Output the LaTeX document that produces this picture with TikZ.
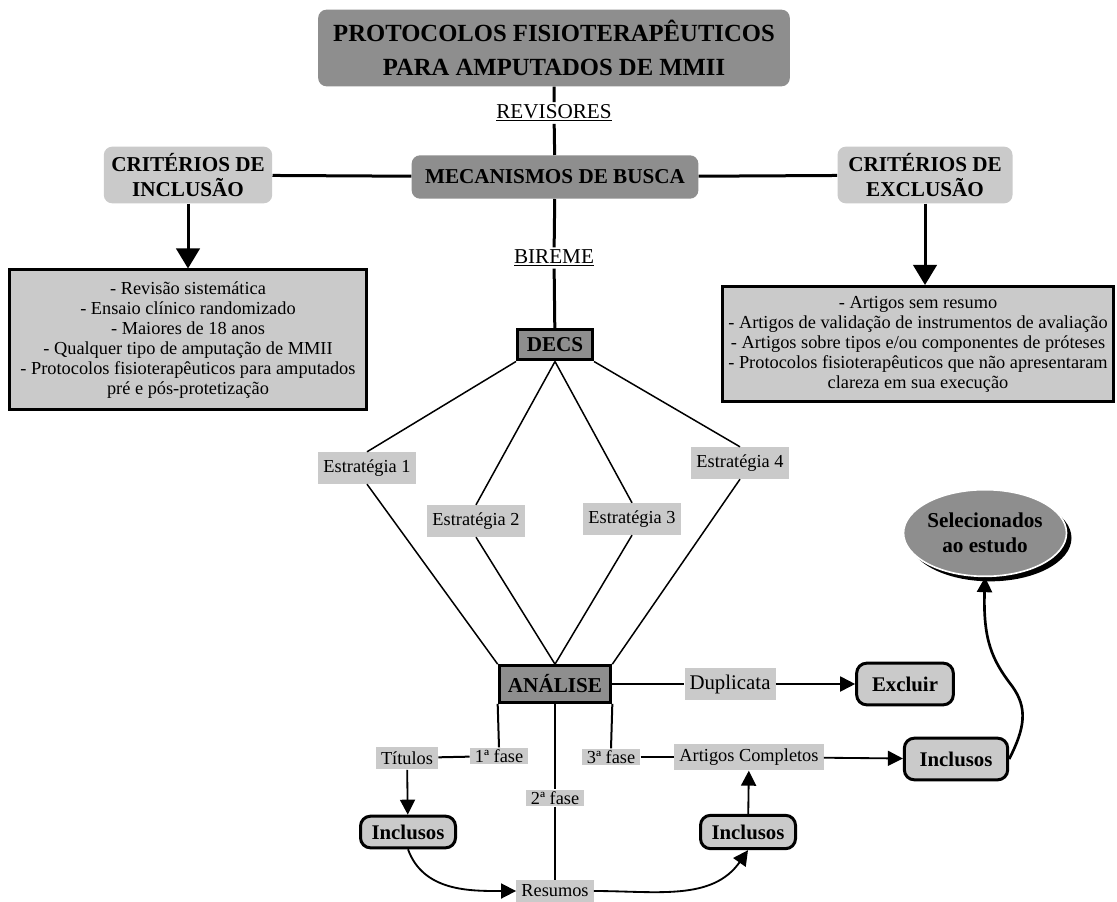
\documentclass[tikz,border=0pt]{standalone}
\usepackage{fontspec}
\setmainfont{Liberation Serif}
\usepackage{tikz}
\usetikzlibrary{arrows.meta,shapes.geometric,shadows,positioning}
\definecolor{cinzaesc}{HTML}{8E8E8E}
\definecolor{cinzacla}{HTML}{CACACA}

\begin{document}
\begin{tikzpicture}[x=0.6pt,y=-0.6pt,
  escuro/.style={fill=cinzaesc, rounded corners=5pt, align=center, font=\bfseries\fontsize{12.7}{15}\selectfont},
  claro/.style={fill=cinzacla, rounded corners=5pt, align=center, font=\bfseries\fontsize{12.7}{15}\selectfont},
  lista/.style={draw=black, line width=1.8pt, fill=cinzacla, align=center, font=\fontsize{11}{12}\selectfont},
  caixaesc/.style={draw=black, line width=1.8pt, fill=cinzaesc, font=\bfseries\fontsize{12.7}{15}\selectfont},
  arred/.style={draw=black, line width=1.8pt, fill=cinzacla, rounded corners=6pt, font=\bfseries\fontsize{12.5}{15}\selectfont},
  rotulo/.style={fill=cinzacla, inner xsep=3pt, inner ysep=3pt, font=\fontsize{11}{13}\selectfont},
  sublinhado/.style={inner sep=1pt, font=\fontsize{12.7}{15}\selectfont},
  grossa/.style={line width=1.8pt},
  media/.style={line width=1.2pt},
  fina/.style={line width=0.9pt},
  seta/.style={line width=1.1pt, -{Triangle[length=9pt,width=9pt]}},
  setagrossa/.style={line width=1.8pt, -{Triangle[length=12pt,width=14pt]}}]
\useasboundingbox (0,0) rectangle (1117,902);

% topo
\node (titulo) [escuro, minimum width=283pt, minimum height=46pt, font=\bfseries\fontsize{14.8}{20}\selectfont] at (554,48) {PROTOCOLOS FISIOTERAPÊUTICOS\\PARA AMPUTADOS DE MMII};
\node (revisores) [sublinhado] at (554,113) {\underline{REVISORES}};
\node (mecanismos) [escuro, minimum width=172pt, minimum height=26pt] at (555,177) {MECANISMOS DE BUSCA};
\node (inclusao) [claro, minimum width=101pt, minimum height=34pt] at (188,175) {CRITÉRIOS DE\\INCLUSÃO};
\node (exclusao) [claro, minimum width=105pt, minimum height=34pt] at (925,175) {CRITÉRIOS DE\\EXCLUSÃO};

\node (caixaincl) [lista, minimum width=214pt, minimum height=84pt] at (188,340) {- Revisão sistemática\\- Ensaio clínico randomizado\\- Maiores de 18 anos\\- Qualquer tipo de amputação de MMII\\- Protocolos fisioterapêuticos para amputados\\pré e pós-protetização};
\node (caixaexcl) [lista, minimum width=235pt, minimum height=69pt] at (918,344) {- Artigos sem resumo\\- Artigos de validação de instrumentos de avaliação\\- Artigos sobre tipos e/ou componentes de próteses\\- Protocolos fisioterapêuticos que não apresentaram\\clareza em sua execução};

\node (bireme) [sublinhado] at (554,258) {\underline{BIREME}};
\node (decs) [caixaesc, minimum width=45pt, minimum height=18pt] at (555,345) {DECS};

% estrategias
\node (estr1) [rotulo, inner ysep=4.5pt] at (367,468) {Estratégia 1};
\node (estr2) [rotulo, inner ysep=4.5pt] at (476,521) {Estratégia 2};
\node (estr3) [rotulo, inner ysep=4.5pt] at (632,519) {Estratégia 3};
\node (estr4) [rotulo, inner ysep=4.5pt] at (740,463) {Estratégia 4};

\node (analise) [caixaesc, minimum width=67pt, minimum height=22pt] at (555,684) {ANÁLISE};
\node (duplicata) [rotulo, inner ysep=4pt, font=\fontsize{12.5}{14}\selectfont] at (730,684) {Duplicata};
\node (excluir) [arred, minimum width=58pt, minimum height=25pt] at (905,684) {Excluir};

% fases
\node (titulos) [rotulo] at (407,758) {Títulos};
\node (fase1) [rotulo, inner ysep=1pt] at (499,756) {1ª fase};
\node (fase2) [rotulo, inner ysep=1pt] at (555,798) {2ª fase};
\node (fase3) [rotulo, inner ysep=1pt] at (611,757) {3ª fase};
\node (artigos) [rotulo] at (749,757) {Artigos Completos};
\node (inclusos1) [arred, minimum width=57pt, minimum height=19pt] at (408,832) {Inclusos};
\node (inclusos2) [arred, minimum width=57pt, minimum height=20pt] at (748,832) {Inclusos};
\node (inclusos3) [arred, minimum width=62pt, minimum height=25pt] at (956,759) {Inclusos};
\node (resumos) [rotulo] at (555,891) {Resumos};
\node (selecionados) [ellipse, fill=cinzaesc, draw=white, line width=1pt, minimum width=96pt, minimum height=52pt, inner sep=0pt, align=center,
  font=\bfseries\fontsize{12.7}{15}\selectfont, drop shadow={shadow xshift=3pt, shadow yshift=-3pt, fill=black, opacity=1}] at (985,533) {Selecionados\\ao estudo};

% ligacoes
\draw [grossa] (titulo) -- (revisores) -- (mecanismos);
\draw [grossa] (inclusao) -- (mecanismos) -- (exclusao);
\draw [grossa] (mecanismos) -- (bireme) -- (decs);
\draw [setagrossa] (inclusao) -- (caixaincl);
\draw [setagrossa] (exclusao.south) -- (exclusao.south |- caixaexcl.north);

\draw [fina] (decs.south west) -- (estr1.north);
\draw [fina] (decs.south) -- (estr2.north);
\draw [fina] (decs.south) -- (estr3.north);
\draw [fina] (decs.south east) -- (estr4.north);
\draw [fina] (estr1.south) -- (analise.north west);
\draw [fina] (estr2.south) -- (analise.north);
\draw [fina] (estr3.south) -- (analise.north);
\draw [fina] (estr4.south) -- (analise.north east);

\draw [media] (analise) -- (duplicata);
\draw [seta] (duplicata) -- (excluir);
\draw [media] (analise.south west) -- (fase1.north);
\draw [media] (analise.south) -- (fase2) -- (resumos);
\draw [media] (analise.south east) -- (fase3.north);
\draw [media] (titulos) -- (fase1);
\draw [media] (fase3) -- (artigos);
\draw [seta] (titulos) -- (inclusos1);
\draw [seta] (inclusos2) -- (artigos);
\draw [seta] (artigos) -- (inclusos3);
\draw [seta] (inclusos1.south) to[out=-70,in=180] (resumos.west);
\draw [seta] (resumos.east) to[out=0,in=235] (inclusos2.south);
\draw [seta, line width=1.6pt] (inclusos3.east) .. controls (1025,728) and (1028,708) .. (1012,686) .. controls (992,660) and (983,640) .. (selecionados.south);
\end{tikzpicture}
\end{document}
